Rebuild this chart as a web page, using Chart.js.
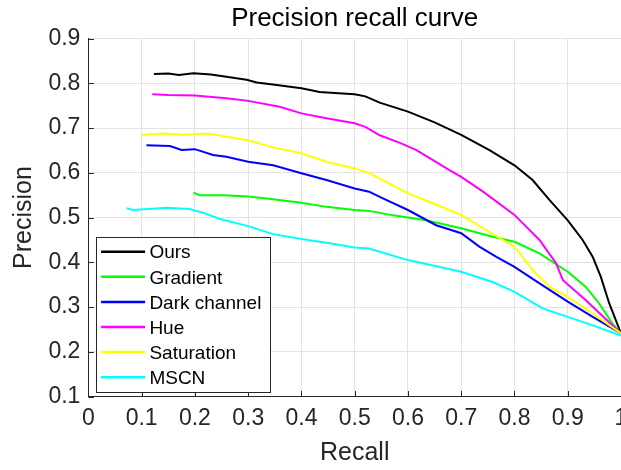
<!DOCTYPE html>
<html>
<head>
<meta charset="utf-8">
<script src="https://cdn.jsdelivr.net/npm/chart.js@4/dist/chart.umd.min.js"></script>
<style>
  html, body { margin: 0; padding: 0; background: #fff; overflow: hidden; }
  #wrap { width: 640px; height: 470px; }
</style>
</head>
<body>
<div id="wrap"><canvas id="prChart" width="640" height="470"></canvas></div>
<script>
// series names and colours, in plotting order
const NAMES = ['Ours', 'Gradient', 'Dark channel', 'Hue', 'Saturation', 'MSCN'];
const COLORS = ['#000000', '#00ff00', '#0000ff', '#ff00ff', '#ffff00', '#00ffff'];

// values (recall, precision)
const oursRecall = [0.123, 0.15, 0.17, 0.197, 0.23, 0.259, 0.297, 0.316, 0.35, 0.4, 0.434, 0.47, 0.5, 0.52, 0.547, 0.6, 0.65, 0.7, 0.753, 0.8, 0.834, 0.866, 0.9, 0.928, 0.947, 0.962, 0.978, 1.0];
const oursPrecision = [0.821, 0.822, 0.819, 0.823, 0.82, 0.815, 0.808, 0.802, 0.797, 0.789, 0.781, 0.778, 0.776, 0.771, 0.757, 0.737, 0.713, 0.685, 0.651, 0.617, 0.584, 0.539, 0.494, 0.45, 0.412, 0.368, 0.308, 0.241];

const gradRecall = [0.197, 0.209, 0.253, 0.3, 0.347, 0.4, 0.447, 0.5, 0.527, 0.572, 0.634, 0.7, 0.759, 0.8, 0.847, 0.9, 0.934, 0.959, 0.984, 1.0];
const gradPrecision = [0.556, 0.55, 0.55, 0.547, 0.541, 0.533, 0.524, 0.517, 0.515, 0.505, 0.494, 0.476, 0.457, 0.446, 0.42, 0.379, 0.345, 0.308, 0.263, 0.241];

const darkRecall = [0.109, 0.153, 0.175, 0.2, 0.234, 0.259, 0.3, 0.347, 0.4, 0.447, 0.5, 0.527, 0.553, 0.6, 0.653, 0.7, 0.734, 0.766, 0.8, 0.847, 0.9, 0.947, 1.0];
const darkPrecision = [0.662, 0.66, 0.651, 0.653, 0.64, 0.636, 0.625, 0.617, 0.599, 0.584, 0.565, 0.558, 0.543, 0.517, 0.483, 0.465, 0.435, 0.412, 0.39, 0.353, 0.312, 0.278, 0.241];

const hueRecall = [0.12, 0.15, 0.2, 0.259, 0.3, 0.359, 0.4, 0.447, 0.5, 0.52, 0.547, 0.585, 0.616, 0.678, 0.7, 0.741, 0.8, 0.847, 0.878, 0.891, 0.934, 1.0];
const huePrecision = [0.776, 0.774, 0.773, 0.767, 0.761, 0.748, 0.733, 0.722, 0.711, 0.703, 0.684, 0.667, 0.651, 0.606, 0.591, 0.558, 0.506, 0.45, 0.398, 0.36, 0.315, 0.241];

const satRecall = [0.1, 0.14, 0.18, 0.225, 0.26, 0.3, 0.347, 0.4, 0.447, 0.5, 0.527, 0.6, 0.647, 0.7, 0.747, 0.778, 0.8, 0.834, 0.866, 0.9, 0.947, 1.0];
const satPrecision = [0.685, 0.688, 0.685, 0.688, 0.681, 0.673, 0.657, 0.644, 0.625, 0.61, 0.6, 0.554, 0.532, 0.506, 0.472, 0.45, 0.435, 0.383, 0.345, 0.323, 0.286, 0.241];

const mscnRecall = [0.072, 0.084, 0.147, 0.19, 0.215, 0.247, 0.3, 0.347, 0.4, 0.447, 0.5, 0.527, 0.6, 0.7, 0.759, 0.8, 0.853, 0.9, 0.947, 1.0];
const mscnPrecision = [0.521, 0.517, 0.522, 0.519, 0.511, 0.497, 0.481, 0.463, 0.452, 0.444, 0.433, 0.431, 0.405, 0.379, 0.356, 0.334, 0.297, 0.278, 0.259, 0.236];

const RECALLS = [oursRecall, gradRecall, darkRecall, hueRecall, satRecall, mscnRecall];
const PRECISIONS = [oursPrecision, gradPrecision, darkPrecision, huePrecision, satPrecision, mscnPrecision];

const FONT = '"Liberation Sans", Arial, Helvetica, sans-serif';
const AXIS_COLOR = '#262626';
const GRID_COLOR = '#e3e3e3';

function toPoints(xs, ys) {
    let pts = [];
    for (let i = 0; i < xs.length; i++) {
        pts.push({x: xs[i], y: ys[i]});
    }
    return pts;
}

let datasets = [];
for (let i = 0; i < NAMES.length; i++) {
    datasets.push({
        label: NAMES[i],
        data: toPoints(RECALLS[i], PRECISIONS[i]),
        borderColor: COLORS[i],
        backgroundColor: COLORS[i],
        borderWidth: 2,
        pointRadius: 0,
        fill: false,
        tension: 0,
        order: NAMES.length - i,   // later series on top, like matlab
    });
}

function fmt(v) {
    return String(Number(v.toFixed(1)));
}

// matlab style ticks pointing into the axes
const inwardTicks = {
    id: 'inwardTicks',
    afterDatasetsDraw(chart) {
        const ctx = chart.ctx;
        const xs = chart.scales.x, ys = chart.scales.y;
        const area = chart.chartArea;
        const len = 5.5;
        ctx.save();
        ctx.strokeStyle = AXIS_COLOR;
        ctx.lineWidth = 1;
        ctx.beginPath();
        xs.ticks.forEach(t => {
            const px = Math.round(xs.getPixelForValue(t.value)) + 0.5;
            ctx.moveTo(px, area.bottom);
            ctx.lineTo(px, area.bottom - len);
        });
        ys.ticks.forEach(t => {
            const py = Math.round(ys.getPixelForValue(t.value)) + 0.5;
            ctx.moveTo(area.left, py);
            ctx.lineTo(area.left + len, py);
        });
        ctx.stroke();
        ctx.restore();
    }
};

// boxed legend in the lower left corner of the axes
const boxLegend = {
    id: 'boxLegend',
    afterDraw(chart) {
        const ctx = chart.ctx;
        const area = chart.chartArea;
        const sets = chart.data.datasets;
        const rowH = 25.1;
        const w = 173.5, h = 155;
        const x0 = area.left + 8, y0 = area.bottom - 4.2 - h;
        ctx.save();
        ctx.fillStyle = '#ffffff';
        ctx.fillRect(x0, y0, w, h);
        ctx.strokeStyle = AXIS_COLOR;
        ctx.lineWidth = 1;
        ctx.strokeRect(Math.round(x0) + 0.5, Math.round(y0) + 0.5, Math.round(w), Math.round(h));
        ctx.font = '19px ' + FONT;
        ctx.textBaseline = 'middle';
        ctx.textAlign = 'left';
        for (let i = 0; i < sets.length; i++) {
            const cy = y0 + 14.4 + i * rowH;
            ctx.strokeStyle = sets[i].borderColor;
            ctx.lineWidth = 2.5;
            ctx.beginPath();
            ctx.moveTo(x0 + 4.7, cy);
            ctx.lineTo(x0 + 48.7, cy);
            ctx.stroke();
            ctx.fillStyle = '#000000';
            ctx.fillText(sets[i].label, x0 + 53, cy + 1.5);
        }
        ctx.restore();
    }
};

const config = {
    type: 'line',
    data: { datasets: datasets },
    options: {
        responsive: false,
        animation: false,
        devicePixelRatio: 1,
        layout: { padding: { left: 0, right: 19, top: 0, bottom: 0 } },
        plugins: {
            legend: { display: false },
            tooltip: { enabled: false },
            title: {
                display: true,
                text: 'Precision recall curve',
                fullSize: false,
                color: '#000000',
                font: { family: FONT, size: 26, weight: 'normal', lineHeight: 1.2 },
                padding: { top: 3.5, bottom: 4 },
            },
        },
        scales: {
            x: {
                type: 'linear',
                min: 0,
                max: 1,
                afterFit: (scale) => { scale.height = 73.5; },
                grid: { color: GRID_COLOR, drawTicks: false },
                border: { display: true, color: AXIS_COLOR, width: 1 },
                ticks: {
                    stepSize: 0.1,
                    padding: 8,
                    color: AXIS_COLOR,
                    font: { family: FONT, size: 23 },
                    maxRotation: 0,
                    autoSkip: false,
                    callback: (v) => fmt(v),
                },
                title: {
                    display: true,
                    text: 'Recall',
                    color: AXIS_COLOR,
                    font: { family: FONT, size: 25, lineHeight: 1.2 },
                    padding: { top: 0, bottom: 2 },
                },
            },
            y: {
                type: 'linear',
                min: 0.1,
                max: 0.9,
                afterFit: (scale) => { scale.width = 88.4; },
                grid: { color: GRID_COLOR, drawTicks: false },
                border: { display: true, color: AXIS_COLOR, width: 1 },
                ticks: {
                    stepSize: 0.1,
                    padding: 8,
                    color: AXIS_COLOR,
                    font: { family: FONT, size: 23 },
                    autoSkip: false,
                    callback: (v) => fmt(v),
                },
                title: {
                    display: true,
                    text: 'Precision',
                    color: AXIS_COLOR,
                    font: { family: FONT, size: 25, lineHeight: 1.2 },
                    padding: { top: 9, bottom: 0 },
                },
            },
        },
    },
    plugins: [inwardTicks, boxLegend],
};

new Chart(document.getElementById('prChart').getContext('2d'), config);
</script>
</body>
</html>
